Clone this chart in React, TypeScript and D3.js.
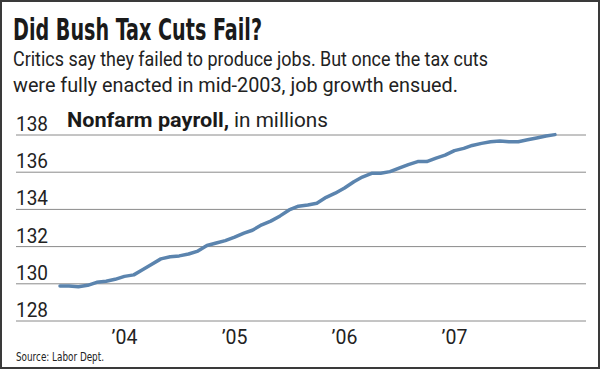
import React, { useEffect, useRef } from "react";
import * as d3 from "d3";

// monthly nonfarm payroll, millions, Jun 2003 - Dec 2007
const startMonth = new Date(2003, 5, 1);
const payroll = [
  129.88, 129.88, 129.84, 129.92, 130.08, 130.14, 130.24, 130.4, 130.48, 130.75,
  131.05, 131.34, 131.45, 131.5, 131.6, 131.76, 132.06, 132.19, 132.32, 132.51,
  132.72, 132.88, 133.17, 133.37, 133.65, 133.97, 134.17, 134.24, 134.33, 134.65,
  134.87, 135.15, 135.49, 135.74, 135.94, 135.94, 136.03, 136.22, 136.41, 136.57,
  136.57, 136.76, 136.92, 137.16, 137.28, 137.44, 137.55, 137.64, 137.68, 137.64,
  137.64, 137.74, 137.84, 137.95, 138.02,
];
const yTicks = [128, 130, 132, 134, 136, 138];
const yearTicks = [2004, 2005, 2006, 2007];
const yearLabels = ["\u201904", "\u201905", "\u201906", "\u201907"];

const W = 600;
const H = 369;

const App = () => {
  const svgRef = useRef<SVGSVGElement>(null);

  useEffect(() => {
    const svg = d3.select(svgRef.current);
    svg.selectAll("*").remove();

    const data = payroll.map((v, i) => ({
      date: d3.timeMonth.offset(startMonth, i),
      value: v,
    }));

    var x = d3
      .scaleTime()
      .domain([startMonth, data[data.length - 1].date])
      .range([60, 555]);
    var y = d3.scaleLinear().domain([128, 138]).range([321, 135]);

    // frame
    svg
      .append("rect")
      .attr("x", 1)
      .attr("y", 1)
      .attr("width", W - 2)
      .attr("height", H - 2)
      .attr("fill", "#fff")
      .attr("stroke", "#3a3a3a")
      .attr("stroke-width", 2);

    // title + subtitle
    svg
      .append("text")
      .attr("x", 13)
      .attr("y", 40)
      .attr("font-family", "'DejaVu Sans Condensed', 'DejaVu Sans'")
      .attr("font-weight", "bold")
      .attr("font-size", 31)
      .attr("fill", "#1a1a1a")
      .attr("textLength", 249)
      .attr("lengthAdjust", "spacingAndGlyphs")
      .text("Did Bush Tax Cuts Fail?");

    var sub = [
      { t: "Critics say they failed to produce jobs. But once the tax cuts", y: 66, w: 475 },
      { t: "were fully enacted in mid-2003, job growth ensued.", y: 92, w: 445 },
    ];
    svg
      .selectAll(".sub")
      .data(sub)
      .join("text")
      .attr("x", 13)
      .attr("y", (d) => d.y)
      .attr("font-family", "Roboto, sans-serif")
      .attr("font-size", 20)
      .attr("fill", "#222")
      .attr("textLength", (d) => d.w)
      .attr("lengthAdjust", "spacingAndGlyphs")
      .text((d) => d.t);

    // gridlines + y labels
    svg
      .selectAll(".grid")
      .data(yTicks)
      .join("line")
      .attr("x1", 16)
      .attr("x2", 586)
      .attr("y1", (d) => y(d))
      .attr("y2", (d) => y(d))
      .attr("stroke", "#8a8a8a")
      .attr("stroke-width", 1);

    svg
      .selectAll(".ylab")
      .data(yTicks)
      .join("text")
      .attr("x", 16)
      .attr("y", (d) => y(d) - 4)
      .attr("font-family", "Roboto, sans-serif")
      .attr("font-size", 19.5)
      .attr("fill", "#222")
      .attr("textLength", 32)
      .attr("lengthAdjust", "spacingAndGlyphs")
      .text((d) => d);

    // chart label
    svg
      .append("text")
      .attr("x", 67)
      .attr("y", 127)
      .attr("font-family", "Roboto, sans-serif")
      .attr("font-weight", "bold")
      .attr("font-size", 19.5)
      .attr("fill", "#1a1a1a")
      .attr("textLength", 162)
      .attr("lengthAdjust", "spacingAndGlyphs")
      .text("Nonfarm payroll,");
    svg
      .append("text")
      .attr("x", 234)
      .attr("y", 127)
      .attr("font-family", "Roboto, sans-serif")
      .attr("font-size", 19.5)
      .attr("fill", "#222")
      .attr("textLength", 94)
      .attr("lengthAdjust", "spacingAndGlyphs")
      .text("in millions");

    // x labels
    svg
      .selectAll(".xlab")
      .data(yearTicks)
      .join("text")
      .attr("x", (d) => x(new Date(d, 0, 1)))
      .attr("y", 344)
      .attr("text-anchor", "middle")
      .attr("font-family", "Roboto, sans-serif")
      .attr("font-size", 19.5)
      .attr("fill", "#222")
      .text((d, i) => yearLabels[i]);

    // the line
    var line = d3
      .line<{ date: Date; value: number }>()
      .x((d) => x(d.date))
      .y((d) => y(d.value));
    svg
      .append("path")
      .datum(data)
      .attr("d", line)
      .attr("fill", "none")
      .attr("stroke", "#5b84ae")
      .attr("stroke-width", 3.5)
      .attr("stroke-linejoin", "round")
      .attr("stroke-linecap", "round");

    // source
    svg
      .append("text")
      .attr("x", 16)
      .attr("y", 361)
      .attr("font-family", "'DejaVu Sans Condensed', sans-serif")
      .attr("font-size", 13)
      .attr("fill", "#222")
      .attr("textLength", 88)
      .attr("lengthAdjust", "spacingAndGlyphs")
      .text("Source: Labor Dept.");
  }, []);

  return (
    <svg
      ref={svgRef}
      width={W}
      height={H}
      style={{ position: "absolute", left: 0, top: 0 }}
    />
  );
};

export default App;
